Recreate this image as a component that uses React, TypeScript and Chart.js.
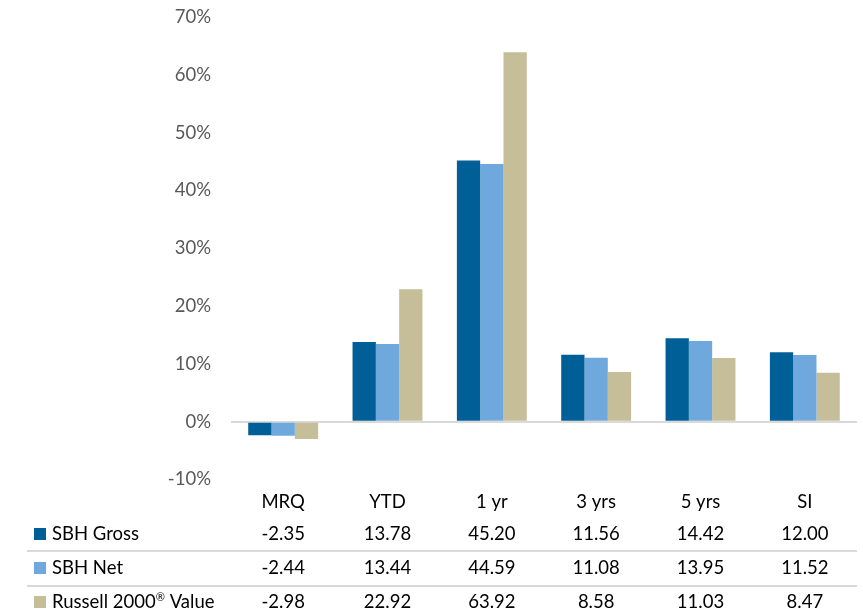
import React, { useEffect, useRef } from "react";
import { Chart, registerables } from "chart.js";

Chart.register(...registerables);

const categories = ["MRQ", "YTD", "1 yr", "3 yrs", "5 yrs", "SI"];
const seriesNames = ["SBH Gross", "SBH Net", "Russell 2000® Value"];
const sbhGross = [-2.35, 13.78, 45.2, 11.56, 14.42, 12.0];
const sbhNet = [-2.44, 13.44, 44.59, 11.08, 13.95, 11.52];
const russell2000Value = [-2.98, 22.92, 63.92, 8.58, 11.03, 8.47];
const seriesColors = ["#005F97", "#6FA8DC", "#C5BE98"];
const yTicks = [-10, 0, 10, 20, 30, 40, 50, 60, 70];

const FONT = "Lato, 'Open Sans', sans-serif";
const FONT_SIZE = 18.5;

function drawLabel(ctx: CanvasRenderingContext2D, text: string, x: number, y: number) {
  const parts = text.split("®");
  let cx = x;
  parts.forEach((p, i) => {
    ctx.font = `${FONT_SIZE}px ${FONT}`;
    ctx.fillText(p, cx, y);
    cx += ctx.measureText(p).width;
    if (i < parts.length - 1) {
      ctx.font = `${FONT_SIZE * 0.6}px ${FONT}`;
      ctx.fillText("®", cx, y - 5);
      cx += ctx.measureText("®").width;
    }
  });
  ctx.font = `${FONT_SIZE}px ${FONT}`;
}

const tablePlugin = {
  id: "dataTable",
  afterDraw(chart: any) {
    const ctx = chart.ctx;
    const x = chart.scales.x;
    const allSeries = [sbhGross, sbhNet, russell2000Value];
    const rowY = [534, 568, 602];
    const sepY = [551, 586];
    ctx.save();
    ctx.strokeStyle = "#D9D9D9";
    ctx.lineWidth = 2;
    sepY.forEach((y) => {
      ctx.beginPath();
      ctx.moveTo(27, y);
      ctx.lineTo(x.right, y);
      ctx.stroke();
    });
    ctx.font = `${FONT_SIZE}px ${FONT}`;
    ctx.textBaseline = "middle";
    allSeries.forEach((vals, r) => {
      const y = rowY[r];
      ctx.fillStyle = seriesColors[r];
      ctx.fillRect(34, y - 6, 12, 12);
      ctx.fillStyle = "#000000";
      ctx.textAlign = "left";
      drawLabel(ctx, seriesNames[r], 52, y);
      ctx.textAlign = "center";
      vals.forEach((v, i) => {
        ctx.fillText(v.toFixed(2), x.getPixelForValue(i), y);
      });
    });
    ctx.restore();
  },
};

export default function App() {
  const ref = useRef<HTMLCanvasElement>(null);
  useEffect(() => {
    if (!ref.current) return;
    const chart = new Chart(ref.current, {
      type: "bar",
      data: {
        labels: categories,
        datasets: [sbhGross, sbhNet, russell2000Value].map((d, i) => ({
          label: seriesNames[i],
          data: d,
          backgroundColor: seriesColors[i],
          barPercentage: 1,
          categoryPercentage: 0.67,
        })),
      },
      options: {
        responsive: false,
        animation: false,
        layout: { padding: { top: 17, right: 6, left: 0, bottom: 0 } },
        plugins: { legend: { display: false }, tooltip: { enabled: false } },
        scales: {
          x: {
            grid: { display: false, drawTicks: false },
            border: { display: false },
            ticks: { color: "#000000", font: { family: FONT, size: FONT_SIZE }, padding: 11 },
            afterFit(scale: any) {
              scale.height = 133.5;
            },
          },
          y: {
            min: -10,
            max: 70,
            afterBuildTicks(scale: any) {
              scale.ticks = yTicks.map((v) => ({ value: v }));
            },
            grid: {
              drawTicks: false,
              lineWidth: 2,
              color: (c: any) => (c.tick && c.tick.value === 0 ? "#D9D9D9" : "rgba(0,0,0,0)"),
            },
            border: { display: false },
            ticks: {
              color: "#595959",
              font: { family: FONT, size: FONT_SIZE },
              padding: 20,
              callback: (v: any) => `${v}%`,
            },
            afterFit(scale: any) {
              scale.width = 231;
              scale.paddingTop = 0;
              scale.paddingBottom = 0;
            },
          },
        },
      },
      plugins: [tablePlugin],
    });
    return () => chart.destroy();
  }, []);
  return (
    <div style={{ position: "absolute", left: 0, top: 0, width: 863, height: 613, background: "#fff" }}>
      <canvas ref={ref} width={863} height={613} style={{ display: "block" }} />
    </div>
  );
}
